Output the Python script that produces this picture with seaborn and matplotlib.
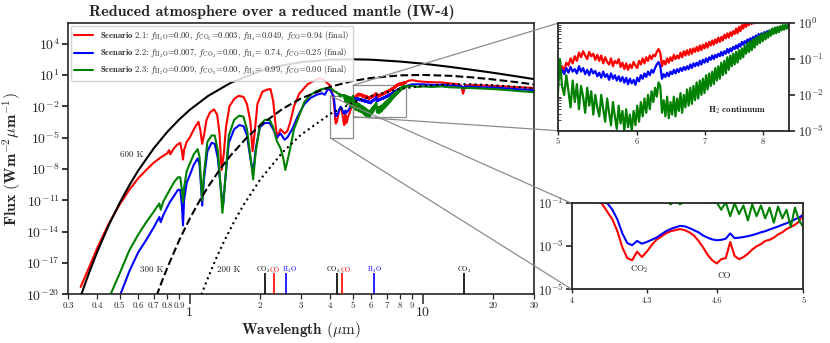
import numpy as np
import pandas as pd

import matplotlib
matplotlib.use('Agg')
import matplotlib.pyplot as plt
import seaborn as sns
from matplotlib.ticker import NullLocator, LogLocator
from mpl_toolkits.axes_grid1.inset_locator import mark_inset

############################## DATOS (log10 del flujo, W m^-2 um^-1) ##############################

# Cuerpos negros
wl_bb600 = [0.34, 0.35, 0.37, 0.40, 0.45, 0.50, 0.55, 0.60, 0.70, 0.80, 0.90, 1.0, 1.2, 1.5, 2.0,
            2.5, 3.0, 4.0, 5.0, 6.0, 8.0, 10, 13, 16, 20, 25, 30]
lf_bb600 = [-20.21, -19.40, -17.91, -15.97, -13.33, -11.25, -9.57, -8.17, -6.03, -4.46, -3.27, -2.34,
            -1.00, 0.25, 1.36, 1.92, 2.22, 2.46, 2.50, 2.46, 2.28, 2.08, 1.78, 1.51, 1.21, 0.88, 0.60]
wl_bb300 = [0.72, 0.76, 0.8, 0.9, 1.0, 1.1, 1.2, 1.35, 1.5, 1.75, 2.0, 2.5, 3.0, 4.0, 5.0, 6.0, 8.0,
            10, 13, 16, 20, 25, 30]
lf_bb300 = [-20.14, -18.74, -17.48, -14.84, -12.75, -11.07, -9.68, -8.01, -6.69, -5.04, -3.84, -2.25,
            -1.25, -0.14, 0.42, 0.71, 0.96, 1.00, 0.92, 0.78, 0.57, 0.32, 0.09]
wl_bb200 = [1.1, 1.15, 1.2, 1.3, 1.4, 1.55, 1.7, 2.0, 2.5, 3.0, 4.0, 5.0, 6.0, 8.0, 10, 13, 16, 20,
            25, 30]
lf_bb200 = [-20.53, -19.40, -18.36, -16.52, -14.97, -13.04, -11.46, -9.05, -6.41, -4.73, -2.74,
            -1.67, -1.02, -0.34, -0.05, 0.11, 0.11, 0.02, -0.14, -0.31]

# Espectros: tramo corto (<4 um)
wl_rojo = [0.34, 0.37, 0.40, 0.45, 0.50, 0.55, 0.60, 0.65, 0.70, 0.75, 0.80, 0.815, 0.825, 0.85, 0.88,
           0.91, 0.925, 0.935, 0.945, 0.97, 1.00, 1.03, 1.06, 1.09, 1.11, 1.13, 1.15, 1.18, 1.22, 1.27,
           1.31, 1.34, 1.37, 1.40, 1.43, 1.48, 1.55, 1.62, 1.70, 1.76, 1.82, 1.86, 1.90, 1.95, 2.05,
           2.15, 2.22, 2.28, 2.34, 2.38, 2.45, 2.55, 2.62, 2.70, 2.80, 2.95, 3.20, 3.45, 3.60, 3.75, 3.90]
lf_rojo = [-19.3, -17.4, -15.6, -13.2, -11.4, -10.0, -8.9, -8.1, -7.4, -6.9, -6.5, -6.2, -6.6, -6.1, -5.7,
           -5.5, -6.3, -7.1, -6.2, -5.4, -5.0, -4.4, -3.9, -3.5, -4.3, -5.6, -4.8, -3.3, -2.6, -2.3,
           -2.8, -4.5, -8.1, -6.5, -4.0, -2.0, -1.3, -1.0, -1.1, -1.8, -3.5, -6.3, -4.5, -1.8, -0.6,
           -0.4, -0.35, -1.5, -4.0, -5.0, -4.2, -4.6, -4.4, -3.5, -2.0, -0.8, 0.1, 0.5, 0.7, 0.55, 0.2]
wl_azul = [0.50, 0.55, 0.60, 0.65, 0.70, 0.74, 0.75, 0.77, 0.82, 0.86, 0.89, 0.91, 0.925, 0.935, 0.945,
           0.97, 1.00, 1.04, 1.08, 1.10, 1.12, 1.13, 1.15, 1.19, 1.24, 1.28, 1.32, 1.36, 1.39, 1.42,
           1.47, 1.55, 1.63, 1.70, 1.76, 1.82, 1.87, 1.92, 2.00, 2.10, 2.20, 2.28, 2.36, 2.45, 2.55,
           2.62, 2.75, 2.90, 3.10, 3.30, 3.50, 3.70, 3.80, 3.90]
lf_azul = [-20.2, -17.8, -16.0, -14.8, -13.6, -12.6, -13.1, -12.4, -11.2, -10.5, -10.0, -10.0, -11.5, -13.4,
           -11.0, -9.3, -8.6, -7.6, -7.0, -7.5, -10.0, -11.5, -9.0, -6.3, -5.5, -5.6, -7.0, -10.0, -11.5,
           -9.0, -5.5, -4.2, -3.8, -3.9, -4.8, -7.0, -8.4, -6.0, -4.0, -3.6, -3.6, -4.2, -5.0, -4.6,
           -5.2, -5.0, -4.2, -3.0, -1.8, -1.2, -0.9, -0.75, -0.9, -0.4]
wl_verde = [0.455, 0.50, 0.55, 0.60, 0.65, 0.70, 0.74, 0.75, 0.77, 0.82, 0.86, 0.89, 0.91, 0.925, 0.935,
            0.945, 0.97, 1.00, 1.04, 1.08, 1.10, 1.12, 1.13, 1.15, 1.19, 1.24, 1.28, 1.32, 1.36, 1.38,
            1.42, 1.47, 1.55, 1.63, 1.70, 1.76, 1.82, 1.87, 1.92, 2.00, 2.10, 2.20, 2.28, 2.36, 2.45,
            2.52, 2.57, 2.62, 2.70, 2.80, 2.90, 3.10, 3.30, 3.50, 3.70, 3.90]
lf_verde = [-20.1, -18.0, -15.8, -14.3, -13.1, -12.1, -11.3, -11.9, -11.1, -10.0, -9.2, -8.8, -8.8, -10.0,
            -11.2, -9.8, -8.2, -7.5, -6.6, -6.1, -6.8, -9.5, -11.0, -8.5, -5.4, -4.8, -4.8, -6.3, -10.0,
            -12.2, -9.0, -4.8, -3.3, -2.9, -3.0, -4.2, -6.8, -9.0, -6.3, -3.8, -3.3, -3.3, -4.0, -5.3,
            -6.0, -7.0, -8.1, -7.3, -6.0, -4.2, -3.3, -1.6, -0.9, -0.55, -0.35, -0.25]

# Tramo CO2 / CO (4-5 um)
wl_co = [4.00, 4.02, 4.04, 4.06, 4.08, 4.10, 4.12, 4.14, 4.16, 4.18, 4.20, 4.22, 4.24, 4.26, 4.28,
         4.30, 4.32, 4.34, 4.36, 4.38, 4.40, 4.42, 4.44, 4.46, 4.48, 4.50, 4.52, 4.54, 4.56, 4.58,
         4.60, 4.62, 4.64, 4.66, 4.68, 4.70, 4.72, 4.74, 4.76, 4.78, 4.80, 4.82, 4.84, 4.86, 4.88,
         4.90, 4.92, 4.94, 4.96, 4.98]
lf_co_rojo = [0.0, -0.1, -0.25, -0.4, -0.6, -0.85, -1.05, -1.4, -1.75, -2.3,
              -3.05, -3.55, -3.65, -3.25, -3.5, -3.25, -2.95, -2.7, -2.55, -2.4,
              -2.3, -2.25, -2.2, -2.25, -2.35, -2.5, -2.75, -3.05, -3.4, -3.65,
              -3.8, -3.6, -3.55, -2.8, -3.45, -3.6, -3.5, -3.35, -3.15, -3.0,
              -2.9, -2.75, -2.7, -2.6, -2.45, -2.35, -2.2, -2.1, -2.0, -1.85]
lf_co_azul = [-0.4, -0.5, -0.6, -0.7, -0.8, -0.9, -0.95, -1.0, -1.3, -1.75,
              -2.4, -2.85, -2.95, -2.75, -2.88, -2.8, -2.7, -2.6, -2.45, -2.3,
              -2.2, -2.12, -2.05, -2.07, -2.15, -2.25, -2.35, -2.5, -2.6, -2.68,
              -2.72, -2.7, -2.65, -2.4, -2.62, -2.6, -2.57, -2.53, -2.48, -2.42,
              -2.35, -2.3, -2.22, -2.15, -2.08, -2.0, -1.93, -1.85, -1.75, -1.65]
lf_co_verde = [-0.25, -0.28, -0.3, -0.35, -0.38, -0.4, -0.45, -0.5, -0.52, -0.55,
               -0.6, -0.62, -0.65, -0.62, -0.7, -0.72, -0.75, -0.78, -0.8, -0.85,
               -1.05, -0.85, -1.05, -0.9, -0.92, -0.95, -0.93, -0.97, -0.95, -0.98,
               -0.96, -1.3, -0.95, -1.6, -1.0, -1.5, -1.1, -1.8, -1.05, -1.6,
               -1.1, -1.7, -1.2, -1.9, -1.15, -1.7, -1.3, -2.1, -1.2, -1.8]

# Tramo continuo H2 (5-8.5 um)
wl_h2 = [5.000, 5.025, 5.050, 5.075, 5.100, 5.125, 5.150, 5.175, 5.200, 5.225,
         5.250, 5.275, 5.300, 5.325, 5.350, 5.375, 5.400, 5.425, 5.450, 5.475,
         5.500, 5.525, 5.550, 5.575, 5.600, 5.625, 5.650, 5.675, 5.700, 5.725,
         5.750, 5.775, 5.800, 5.825, 5.850, 5.875, 5.900, 5.925, 5.950, 5.975,
         6.000, 6.025, 6.050, 6.075, 6.100, 6.125, 6.150, 6.175, 6.200, 6.225,
         6.250, 6.275, 6.300, 6.325, 6.350, 6.375, 6.400, 6.425, 6.450, 6.475,
         6.500, 6.525, 6.550, 6.575, 6.600, 6.625, 6.650, 6.675, 6.700, 6.725,
         6.750, 6.775, 6.800, 6.825, 6.850, 6.875, 6.900, 6.925, 6.950, 6.975,
         7.000, 7.025, 7.050, 7.075, 7.100, 7.125, 7.150, 7.175, 7.200, 7.225,
         7.250, 7.275, 7.300, 7.325, 7.350, 7.375, 7.400, 7.425, 7.450, 7.475,
         7.500, 7.525, 7.550, 7.575, 7.600, 7.625, 7.650, 7.675, 7.700, 7.725,
         7.750, 7.775, 7.800, 7.825, 7.850, 7.875, 7.900, 7.925, 7.950, 7.975,
         8.000, 8.025, 8.050, 8.075, 8.100, 8.125, 8.150, 8.175, 8.200, 8.225,
         8.250, 8.275, 8.300, 8.325, 8.350, 8.375, 8.400, 8.425, 8.450, 8.475,
         8.500]
lf_h2_rojo = [-1.45, -1.3, -1.2, -1.32, -1.1, -1.18, -0.98, -1.12, -0.92, -1.05,
              -0.82, -0.95, -0.78, -0.9, -1.0, -0.8, -0.92, -0.85, -1.02, -0.88,
              -1.05, -0.9, -1.12, -0.95, -1.08, -1.15, -0.98, -1.2, -1.05, -1.12,
              -1.0, -1.22, -1.1, -1.28, -1.12, -1.3, -1.15, -1.25, -1.08, -1.18,
              -1.25, -1.05, -1.15, -0.98, -1.12, -0.95, -1.05, -0.9, -1.0, -0.88,
              -0.92, -0.8, -0.72, -0.82, -1.2, -1.05, -1.15, -0.98, -1.1, -0.95,
              -1.05, -0.88, -1.0, -0.9, -0.98, -0.82, -0.95, -0.78, -0.9, -0.75,
              -0.88, -0.72, -0.85, -0.7, -0.8, -0.66, -0.78, -0.62, -0.75, -0.6,
              -0.7, -0.55, -0.68, -0.52, -0.62, -0.48, -0.6, -0.45, -0.55, -0.4,
              -0.52, -0.38, -0.48, -0.32, -0.42, -0.28, -0.4, -0.25, -0.35, -0.22,
              -0.3, -0.15, -0.28, -0.1, -0.22, -0.05, -0.15, 0.02, -0.1, 0.05,
              -0.05, 0.1, -0.02, 0.12, 0.0, 0.15, 0.05, 0.18, 0.02, 0.12,
              0.2, 0.05, 0.18, 0.08, 0.22, 0.1, 0.25, 0.12, 0.22, 0.15,
              0.28, 0.15, 0.3, 0.18, 0.28, 0.2, 0.32, 0.22, 0.3, 0.25,
              0.35]
lf_h2_azul = [-1.55, -1.38, -1.3, -1.42, -1.25, -1.38, -1.22, -1.35, -1.28, -1.4,
              -1.2, -1.35, -1.25, -1.42, -1.3, -1.45, -1.28, -1.4, -1.33, -1.48,
              -1.38, -1.52, -1.35, -1.5, -1.42, -1.58, -1.4, -1.55, -1.45, -1.6,
              -1.48, -1.62, -1.5, -1.66, -1.52, -1.7, -1.55, -1.68, -1.58, -1.72,
              -1.52, -1.62, -1.45, -1.55, -1.4, -1.5, -1.35, -1.45, -1.3, -1.38,
              -1.25, -1.15, -1.08, -1.2, -1.55, -1.42, -1.5, -1.38, -1.48, -1.35,
              -1.42, -1.3, -1.4, -1.28, -1.36, -1.25, -1.33, -1.22, -1.3, -1.2,
              -1.28, -1.15, -1.25, -1.12, -1.2, -1.1, -1.18, -1.05, -1.15, -1.02,
              -1.1, -0.98, -1.08, -0.95, -1.02, -0.9, -1.0, -0.88, -0.95, -0.85,
              -0.92, -0.8, -0.9, -0.78, -0.85, -0.72, -0.82, -0.7, -0.78, -0.66,
              -0.72, -0.62, -0.7, -0.58, -0.65, -0.52, -0.6, -0.5, -0.56, -0.45,
              -0.52, -0.42, -0.5, -0.38, -0.45, -0.34, -0.42, -0.3, -0.38, -0.28,
              -0.34, -0.25, -0.32, -0.22, -0.3, -0.2, -0.26, -0.16, -0.24, -0.14,
              -0.2, -0.12, -0.18, -0.1, -0.16, -0.08, -0.14, -0.06, -0.1, -0.05,
              -0.05]
lf_h2_verde = [-2.1, -1.0, -1.75, -2.0, -1.45, -1.9, -2.35, -1.6, -2.2, -1.7,
               -2.4, -1.75, -2.05, -2.5, -1.8, -2.3, -1.9, -2.55, -2.0, -2.35,
               -2.6, -2.0, -2.4, -2.75, -2.1, -2.5, -2.85, -2.2, -2.6, -2.95,
               -2.3, -2.8, -2.45, -3.0, -2.4, -2.9, -2.55, -3.0, -2.45, -2.85,
               -2.3, -2.75, -2.2, -2.6, -2.1, -2.5, -2.0, -2.4, -1.9, -2.2,
               -1.8, -2.05, -1.65, -1.75, -2.5, -2.15, -2.6, -2.05, -2.65, -2.2,
               -2.55, -2.05, -2.6, -2.1, -2.45, -1.95, -2.5, -2.0, -2.35, -1.85,
               -2.3, -1.8, -2.25, -1.75, -2.15, -1.65, -2.1, -1.6, -2.0, -1.55,
               -1.95, -1.45, -1.85, -1.4, -1.75, -1.35, -1.7, -1.25, -1.6, -1.2,
               -1.55, -1.1, -1.45, -1.05, -1.4, -0.95, -1.3, -0.9, -1.2, -0.85,
               -1.15, -0.8, -1.1, -0.75, -1.0, -0.7, -0.95, -0.62, -0.85, -0.55,
               -0.8, -0.5, -0.75, -0.45, -0.68, -0.4, -0.6, -0.35, -0.55, -0.3,
               -0.5, -0.28, -0.45, -0.25, -0.4, -0.2, -0.35, -0.15, -0.3, -0.12,
               -0.28, -0.1, -0.25, -0.08, -0.2, -0.05, -0.18, -0.04, -0.15, -0.05,
               -0.1]

# Tramo largo (>8.5 um)
wl_lejano = [8.7, 9.0, 9.5, 10, 11, 12, 13, 14, 14.6, 14.9, 15.2, 16, 18, 20, 23, 26, 30]
lf_lejano_rojo = [0.45, 0.5, 0.4, 0.35, 0.3, 0.28, 0.2, 0.12, 0.0, -0.8, 0.0, 0.05, 0.0, -0.05,
                  -0.12, -0.18, -0.25]
lf_lejano_azul = [0.0, 0.1, 0.1, 0.1, 0.05, 0.05, 0.0, -0.05, -0.08, -0.2, -0.1, -0.12, -0.18, -0.2,
                  -0.3, -0.38, -0.45]
lf_lejano_verde = [-0.1, -0.05, -0.15, -0.1, -0.15, -0.1, -0.18, -0.2, -0.22, -0.3, -0.25, -0.25,
                   -0.3, -0.35, -0.45, -0.55, -0.65]

escenarios = [r'$\mathbf{Scenario\ 2.1}$: $f_{\rm H_2O}$=0.00, $f_{\rm CO_2}$=0.003, $f_{\rm H_2}$=0.049, $f_{\rm CO}$=0.94 (final)',
              r'$\mathbf{Scenario\ 2.2}$: $f_{\rm H_2O}$=0.007, $f_{\rm CO_2}$=0.00, $f_{\rm H_2}$= 0.74, $f_{\rm CO}$=0.25 (final)',
              r'$\mathbf{Scenario\ 2.3}$: $f_{\rm H_2O}$=0.009, $f_{\rm CO_2}$=0.00, $f_{\rm H_2}$= 0.99, $f_{\rm CO}$=0.00 (final)']
colores = ['#ff0000', '#0000ff', '#008000']

# Bandas moleculares
mol_wl = [2.1, 2.3, 2.6, 4.3, 4.5, 6.2, 15.0]
mol_nombre = [r'CO$_2$', 'CO', r'H$_2$O', r'CO$_2$', 'CO', r'H$_2$O', r'CO$_2$']
mol_color = ['k', '#ff0000', '#0000ff', 'k', '#ff0000', '#0000ff', 'k']
mol_desplazamiento = [-1.0, 0.8, 1.8, -2.9, 2.6, 0, 0]   # corrimiento de la etiqueta (pt)

# Ejes
y_ticks = [1e-20, 1e-17, 1e-14, 1e-11, 1e-8, 1e-5, 1e-2, 1e1, 1e4]
y_labels = [r'$10^{-20}$', r'$10^{-17}$', r'$10^{-14}$', r'$10^{-11}$', r'$10^{-8}$', r'$10^{-5}$',
            r'$10^{-2}$', r'$10^{1}$', r'$10^{4}$']
x_major = [1, 10]
x_major_labels = ['1', '10']
x_minor = [0.3, 0.4, 0.5, 0.6, 0.7, 0.8, 0.9, 2, 3, 4, 5, 6, 7, 8, 9, 20, 30]
x_minor_labels = ['0.3', '0.4', '0.5', '0.6', '0.7', '0.8', '0.9', '2', '3', '4', '5', '6', '7', '8',
                  '9', '20', '30']

############################## FIGURA ##############################

sns.set_style('ticks')
plt.rcParams['font.family'] = 'serif'
plt.rcParams['font.serif'] = ['cmr10']
plt.rcParams['mathtext.fontset'] = 'cm'
plt.rcParams['axes.formatter.use_mathtext'] = True

# Se arma la tabla de espectros
partes = [(wl_rojo, lf_rojo, lf_co_rojo, lf_h2_rojo, lf_lejano_rojo),
          (wl_azul, lf_azul, lf_co_azul, lf_h2_azul, lf_lejano_azul),
          (wl_verde, lf_verde, lf_co_verde, lf_h2_verde, lf_lejano_verde)]
filas = []
for nombre, (wl1, lf1, lfc, lfh, lfl) in zip(escenarios, partes):
    wl = list(wl1) + wl_co + wl_h2 + wl_lejano
    lf = list(lf1) + lfc + lfh + lfl
    filas.append(pd.DataFrame({'Escenario': nombre, 'Longitud': wl, 'Flujo': 10.0 ** np.array(lf)}))
df = pd.concat(filas, ignore_index=True)

fig = plt.figure(figsize=(8.3, 3.43), dpi=100)
ax = fig.add_axes([0.0819, 0.142, 0.5614, 0.7918])
ax_h2 = fig.add_axes([0.6719, 0.619, 0.2790, 0.3131])
ax_co = fig.add_axes([0.6888, 0.1566, 0.2790, 0.2507])

for a in (ax, ax_h2, ax_co):
    a.set_xscale('log')
    a.set_yscale('log')


def dibujar_espectros(a, lw, con_etiqueta):
    for nombre, color in zip(escenarios, colores):
        d = df[df['Escenario'] == nombre]
        kws = {'label': nombre} if con_etiqueta else {}
        sns.lineplot(x=d['Longitud'].values, y=d['Flujo'].values, ax=a, color=color, lw=lw,
                     estimator=None, sort=False, zorder=2, **kws)


dibujar_espectros(ax, 1.5, True)
dibujar_espectros(ax_h2, 1.6, False)
dibujar_espectros(ax_co, 1.5, False)

# Cuerpos negros
for wl, lf, ls in [(wl_bb600, lf_bb600, '-'), (wl_bb300, lf_bb300, '--'), (wl_bb200, lf_bb200, ':')]:
    sns.lineplot(x=wl, y=10.0 ** np.array(lf), ax=ax, color='k', lw=1.5, linestyle=ls,
                 estimator=None, sort=False, zorder=3)
ax.text(0.5635, 10 ** -6.64, '600 K', ha='center', va='center', fontsize=6.5)
ax.text(0.688, 10 ** -17.67, '300 K', ha='center', va='center', fontsize=6.5)
ax.text(1.466, 10 ** -17.67, '200 K', ha='center', va='center', fontsize=6.5)

# Bandas moleculares
for wl, nombre, color, dx in zip(mol_wl, mol_nombre, mol_color, mol_desplazamiento):
    ax.vlines(wl, 1e-20, 1e-18, colors=color, lw=1.2, zorder=4)
    ax.annotate(nombre, (wl, 10 ** -17.7), xytext=(dx, 0), textcoords='offset points',
                color=color, ha='center', va='center', fontsize=4.8)

# Eje principal
ax.set_xlim(0.3, 30)
ax.set_ylim(1e-20, 1e6)
ax.set_yticks(y_ticks, labels=y_labels)
ax.yaxis.set_minor_locator(NullLocator())
ax.set_xticks(x_major, labels=x_major_labels)
ax.set_xticks(x_minor, labels=x_minor_labels, minor=True)
ax.tick_params(axis='y', which='major', length=4, width=1.3, labelsize=10, pad=2)
ax.tick_params(axis='x', which='major', length=7, width=1.1, labelsize=10, pad=2)
ax.tick_params(axis='x', which='minor', length=3.5, width=0.9, labelsize=6.5, pad=1.5)
for s in ax.spines.values():
    s.set_linewidth(1.2)
ax.set_xlabel(r'$\mathbf{Wavelength}$ ($\mu$m)', fontsize=11, labelpad=1)
ax.set_ylabel(r'$\mathbf{Flux\ (Wm^{-2}\mu m^{-1})}$', fontsize=11.5, labelpad=2)
ax.legend(loc='upper left', fontsize=6.2, borderaxespad=0.35, handlelength=2.2,
          framealpha=0.85, edgecolor='0.8', borderpad=0.4, labelspacing=0.45)

# Recuadro continuo H2
ax_h2.set_xlim(5, 8.5)
ax_h2.set_ylim(1e-3, 1)
ax_h2.set_xticks([5, 6, 7, 8], labels=['5', '6', '7', '8'])
ax_h2.xaxis.set_minor_locator(NullLocator())
ax_h2.yaxis.tick_right()
ax_h2.set_yticks([1e-3, 1e-2, 1e-1, 1], labels=[r'$10^{-3}$', r'$10^{-2}$', r'$10^{-1}$', r'$10^{0}$'])
ax_h2.yaxis.set_minor_locator(LogLocator(subs=np.arange(2, 10)))
ax_h2.yaxis.set_minor_formatter(plt.NullFormatter())
ax_h2.tick_params(axis='y', which='major', right=True, left=False, length=4, width=1.2, labelsize=9, pad=2)
ax_h2.tick_params(axis='y', which='minor', left=True, right=False, direction='in', length=2, width=0.6)
ax_h2.tick_params(axis='x', which='major', length=3, width=1, labelsize=6, pad=2)
ax_h2.text(0.773, 0.19, r'$\mathbf{H_2\ continuum}$', transform=ax_h2.transAxes, ha='center',
           va='center', fontsize=6.5)
for s in ax_h2.spines.values():
    s.set_linewidth(1.3)
ax_h2.set_xlabel('')
ax_h2.set_ylabel('')

# Recuadro CO2 / CO
ax_co.set_xlim(4, 5)
ax_co.set_ylim(1e-5, 1e-1)
ax_co.set_xticks([4, 4.3, 4.6, 5], labels=['4', '4.3', '4.6', '5'])
ax_co.xaxis.set_minor_locator(NullLocator())
ax_co.set_yticks([1e-5, 1e-3, 1e-1], labels=[r'$10^{-5}$', r'$10^{-3}$', r'$10^{-1}$'])
ax_co.yaxis.set_minor_locator(NullLocator())
ax_co.tick_params(axis='y', length=4, width=1.2, labelsize=9, pad=2)
ax_co.tick_params(axis='x', length=3, width=1, labelsize=6, pad=2)
ax_co.text(4.268, 10 ** -4.07, r'CO$_2$', ha='center', va='center', fontsize=6.5)
ax_co.text(4.632, 10 ** -4.38, 'CO', ha='center', va='center', fontsize=6.5)
for s in ax_co.spines.values():
    s.set_linewidth(1.3)
ax_co.set_xlabel('')
ax_co.set_ylabel('')

# Se marcan las zonas ampliadas
mark_inset(ax, ax_h2, loc1=2, loc2=3, fc='none', ec='0.55', lw=0.9)
mark_inset(ax, ax_co, loc1=2, loc2=3, fc='none', ec='0.55', lw=0.9)

fig.text(0.328, 0.965, 'Reduced atmosphere over a reduced mantle (IW-4)', fontfamily='cmb10',
         fontsize=11.5, ha='center', va='center')

fig.savefig('out.png', dpi=100)
